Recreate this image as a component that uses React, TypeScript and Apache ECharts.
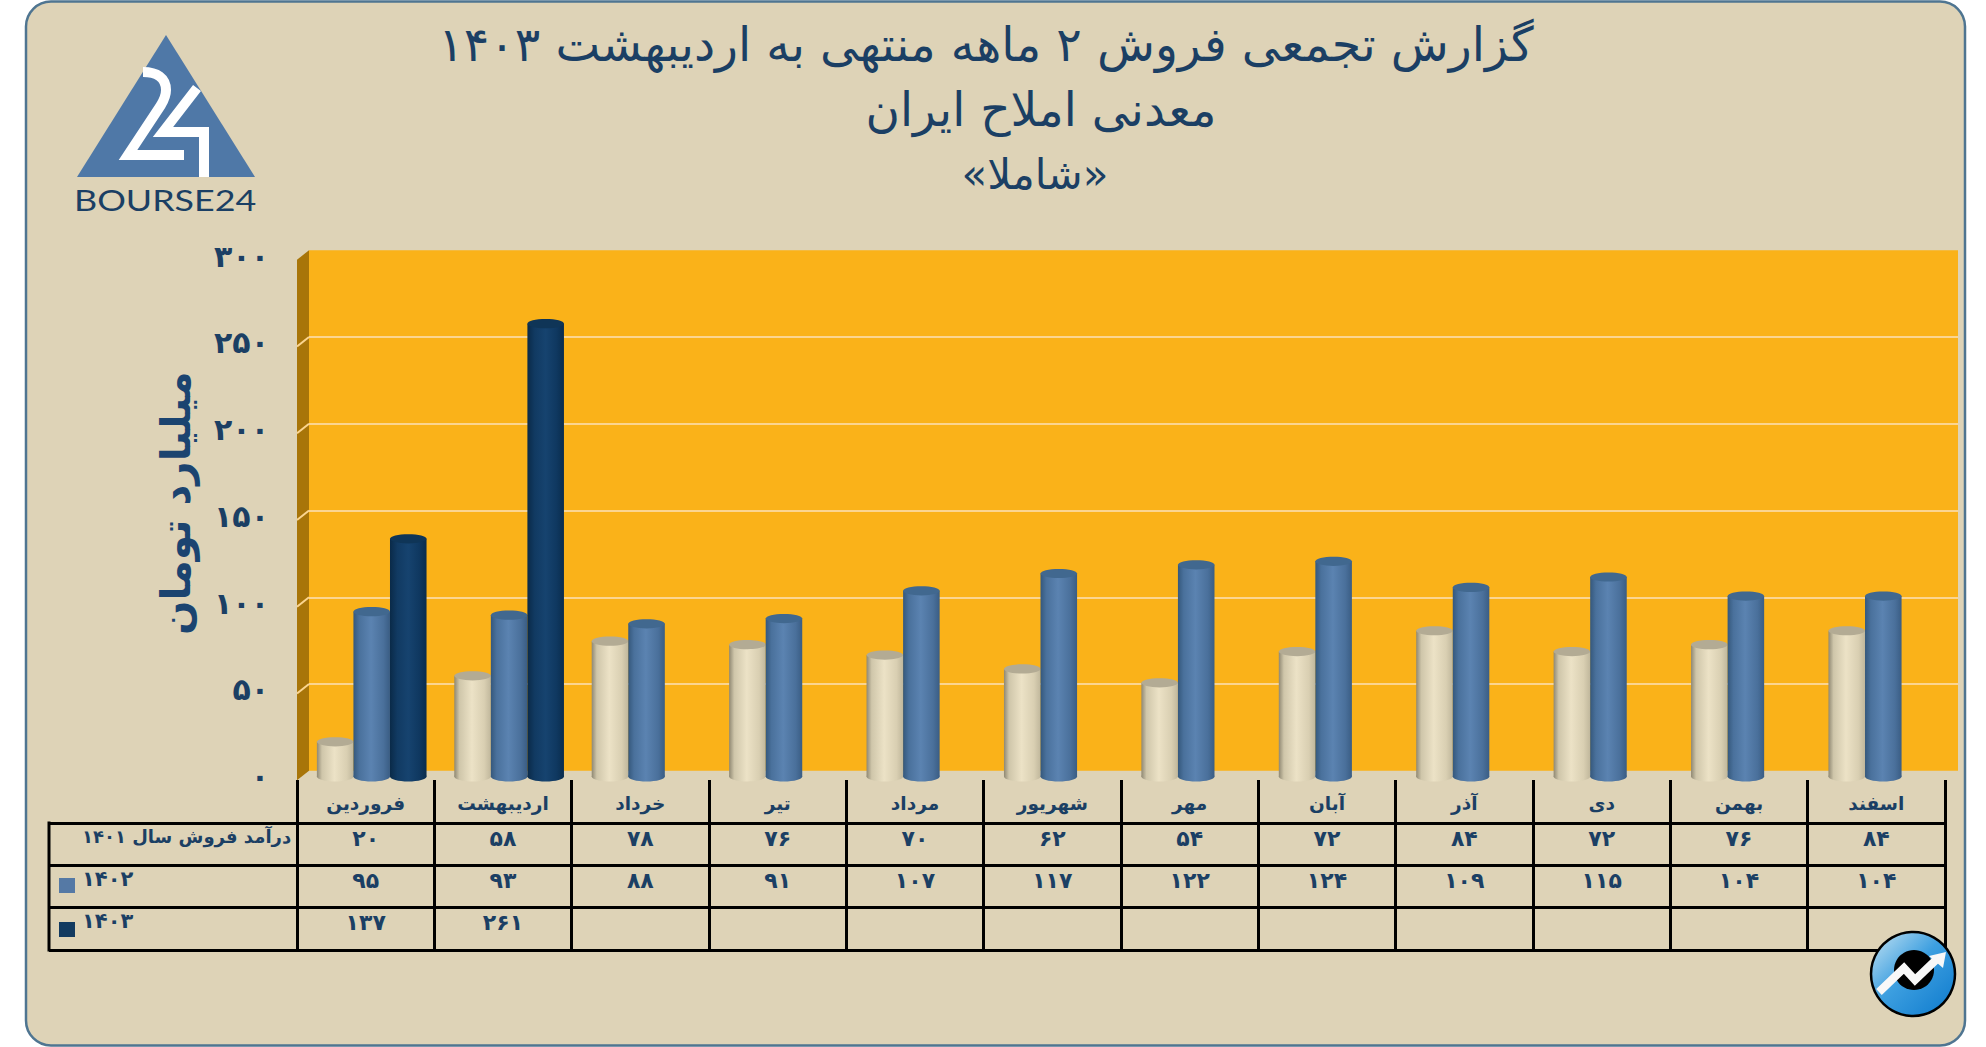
import React, { useEffect, useRef } from "react";
import * as echarts from "echarts";

const months = ["فروردین", "اردیبهشت", "خرداد", "تیر", "مرداد", "شهریور", "مهر", "آبان", "آذر", "دی", "بهمن", "اسفند"];
const sales1401 = [20, 58, 78, 76, 70, 62, 54, 72, 84, 72, 76, 84];
const sales1402 = [95, 93, 88, 91, 107, 117, 122, 124, 109, 115, 104, 104];
const sales1403 = [137, 261];
const yearLabels = ["درآمد فروش سال ۱۴۰۱", "۱۴۰۲", "۱۴۰۳"];
const titleLines = ["گزارش تجمعی فروش ۲ ماهه منتهی به اردیبهشت ۱۴۰۳", "معدنی املاح ایران", "«شاملا»"];
const axisName = "میلیارد تومان";
const innerTicks = [50, 100, 150, 200, 250];

const FONT = "'DejaVu Sans', sans-serif";
const INK = "#1b3f64";

const fa = (n: number) => String(n).replace(/\d/g, (d) => "۰۱۲۳۴۵۶۷۸۹"[+d]);
const grad = (stops: [number, string][]) => ({
  type: "linear", x: 0, y: 0, x2: 1, y2: 0,
  colorStops: stops.map(([offset, color]) => ({ offset, color })),
});

const palette = [
  { body: grad([[0, "#8f8873"], [0.14, "#cfc6aa"], [0.48, "#ece2c6"], [0.82, "#d9cfb2"], [1, "#c0b79c"]]), top: "#b3ab94" },
  { body: grad([[0, "#35587c"], [0.16, "#4a719c"], [0.48, "#5b83b1"], [0.82, "#4a709b"], [1, "#3a5d84"]]), top: "#41688f" },
  { body: grad([[0, "#0a2a48"], [0.2, "#113a62"], [0.5, "#16436f"], [0.8, "#0f3860"], [1, "#0a2c4c"]]), top: "#0f3557" },
];

const cylinder = (slot: number) => (_: any, api: any) => {
  const cat = api.value(0);
  const val = api.value(1);
  const band = api.size([1, 0])[0];
  const w = band * 0.266;
  const [cx0, yTop] = api.coord([cat, val]);
  const [, yBase] = api.coord([cat, 0]);
  const cx = cx0 + slot * w;
  const rx = w / 2;
  const c = palette[slot + 1];
  return {
    type: "group",
    children: [
      { type: "ellipse", shape: { cx, cy: yBase, rx, ry: 5 }, style: { fill: c.body } },
      { type: "rect", shape: { x: cx - rx, y: yTop, width: w, height: yBase - yTop }, style: { fill: c.body } },
      { type: "ellipse", shape: { cx, cy: yTop, rx, ry: 4.6 }, style: { fill: c.top } },
    ],
  };
};

const cellText = (row: number) => (_: any, api: any) => {
  const [x, y] = api.coord([api.value(0), row]);
  return {
    type: "text",
    x,
    y: y - 6,
    style: {
      text: fa(api.value(1)),
      fill: INK,
      font: `bold 22px ${FONT}`,
      textAlign: "center",
      textVerticalAlign: "middle",
    },
  };
};

const asPairs = (vals: number[]) => vals.map((v, i) => [i, v]);

export default function App() {
  const ref = useRef<HTMLDivElement>(null);
  useEffect(() => {
    document.body.style.margin = "0";
    document.body.style.background = "#ffffff";
    echarts.graphic.registerShape(
      "logo24",
      echarts.graphic.extendPath("M143 72 C157 72 166 78 166 90 C166 96 164 100 161 105 L128 155 L184 155 M197 88 L163 132 L204 132 L204 177", {})
    );
    const chart = echarts.init(ref.current!, null, { renderer: "svg" });
    chart.setOption({
      animation: false,
      backgroundColor: "#ffffff",
      title: [
        { text: titleLines[0], left: 981, top: 15, textAlign: "center", textStyle: { fontFamily: FONT, fontSize: 47.5, fontWeight: "normal", color: INK } },
        { text: titleLines[1], left: 1036, top: 81, textAlign: "center", textStyle: { fontFamily: FONT, fontSize: 47, fontWeight: "normal", color: INK } },
        { text: titleLines[2], left: 1030, top: 148, textAlign: "center", textStyle: { fontFamily: FONT, fontSize: 42, fontWeight: "normal", color: INK } },
      ],
      grid: [
        { left: 309, top: 250.25, width: 1649, height: 520.5, show: true, backgroundColor: "#fab219", borderWidth: 0, z: 0 },
        { left: 303, top: 256, width: 1649, height: 520.5 },
        { left: 297, top: 823, width: 1648, height: 127 },
      ],
      xAxis: [
        { gridIndex: 0, type: "value", min: 0, max: 1, show: false },
        { gridIndex: 1, type: "category", data: months, show: false },
        {
          gridIndex: 2, type: "category", data: months, position: "top",
          axisLine: { lineStyle: { color: "#000", width: 3 } },
          axisTick: { show: true, length: 43, interval: 0, lineStyle: { color: "#000", width: 3 } },
          splitLine: { show: true, interval: 0, lineStyle: { color: "#000", width: 3 } },
          axisLabel: { interval: 0, margin: 10, color: INK, fontFamily: FONT, fontWeight: "bold", fontSize: 18.5 },
        },
      ],
      yAxis: [
        {
          gridIndex: 0, type: "value", min: 0, max: 300, interval: 50,
          axisLine: { show: false }, axisTick: { show: false }, axisLabel: { show: false },
          splitLine: { show: true, showMinLine: false, showMaxLine: false, lineStyle: { color: "#fbd590", width: 2 } },
        },
        {
          gridIndex: 1, type: "value", min: 0, max: 300, interval: 50,
          name: axisName, nameLocation: "middle", nameRotate: 90, nameGap: 107,
          nameTextStyle: { fontFamily: FONT, fontSize: 40.5, fontWeight: "bold", color: "#1b4470", padding: [0, 0, 0, 26] },
          axisLine: { show: false }, axisTick: { show: false }, splitLine: { show: false },
          axisLabel: { margin: 34, color: INK, fontFamily: FONT, fontWeight: "bold", fontSize: 30, formatter: (v: number) => fa(v), padding: [4, 0, 0, 0] },
        },
        {
          gridIndex: 2, type: "category", data: yearLabels, inverse: true,
          axisLine: { lineStyle: { color: "#000", width: 3 } },
          axisTick: { show: true, length: 248, interval: 0, lineStyle: { color: "#000", width: 3 } },
          splitLine: { show: true, interval: 0, lineStyle: { color: "#000", width: 3 } },
          axisLabel: {
            interval: 0, align: "left", margin: 215, padding: [0, 0, 16, 0],
            formatter: (v: string, i: number) => (i === 0 ? `{long|${v}}` : `{short|${v}}`),
            rich: {
              long: { color: INK, fontFamily: FONT, fontWeight: "bold", fontSize: 18 },
              short: { color: INK, fontFamily: FONT, fontWeight: "bold", fontSize: 21 },
            },
          },
        },
      ],
      series: [
        {
          name: "sideWall", type: "custom", xAxisIndex: 0, yAxisIndex: 0, z: 1, data: [[0, 300]],
          renderItem: (_: any, api: any) => {
            const [x, yT] = api.coord([0, 300]);
            const [, yB] = api.coord([0, 0]);
            return { type: "polygon", shape: { points: [[x, yT], [x - 12, yT + 9.5], [x - 12, yB + 9.5], [x, yB]] }, style: { fill: "#a87509" } };
          },
        },
        {
          name: "wallTicks", type: "custom", xAxisIndex: 0, yAxisIndex: 0, z: 1, data: innerTicks.map((t) => [0, t]),
          renderItem: (_: any, api: any) => {
            const [x, y] = api.coord([0, api.value(1)]);
            return { type: "line", shape: { x1: x, y1: y, x2: x - 12, y2: y + 9.5 }, style: { stroke: "#fbd590", lineWidth: 2 } };
          },
        },
        { name: "1401", type: "custom", xAxisIndex: 1, yAxisIndex: 1, z: 3, data: asPairs(sales1401), renderItem: cylinder(-1) },
        { name: "1402", type: "custom", xAxisIndex: 1, yAxisIndex: 1, z: 4, data: asPairs(sales1402), renderItem: cylinder(0) },
        { name: "1403", type: "custom", xAxisIndex: 1, yAxisIndex: 1, z: 5, data: asPairs(sales1403), renderItem: cylinder(1) },
        { name: "table1401", type: "custom", xAxisIndex: 2, yAxisIndex: 2, z: 6, data: asPairs(sales1401), renderItem: cellText(0) },
        { name: "table1402", type: "custom", xAxisIndex: 2, yAxisIndex: 2, z: 6, data: asPairs(sales1402), renderItem: cellText(1) },
        { name: "table1403", type: "custom", xAxisIndex: 2, yAxisIndex: 2, z: 6, data: asPairs(sales1403), renderItem: cellText(2) },
      ],
      graphic: [
        { type: "rect", z: -100, shape: { x: 26, y: 1.5, width: 1939, height: 1044, r: 25 }, style: { fill: "#ded3b7", stroke: "#4f7591", lineWidth: 2.5 }, silent: true },
        // table left border and legend swatches
        { type: "line", shape: { x1: 49, y1: 821.5, x2: 49, y2: 951.5 }, style: { stroke: "#000", lineWidth: 3 } },
        { type: "rect", shape: { x: 59, y: 878, width: 16, height: 15 }, style: { fill: "#5579a5" } },
        { type: "rect", shape: { x: 59, y: 922, width: 16, height: 15 }, style: { fill: "#123a60" } },
        // logo
        { type: "polygon", shape: { points: [[166, 35], [77, 177], [255, 177]] }, style: { fill: "#4f78a7" } },
        { type: "logo24", x: 0, y: 0, style: { fill: null, stroke: "#ffffff", lineWidth: 10, lineJoin: "miter" } },
        { type: "text", x: 74, y: 200, scaleX: 1.28, style: { text: "BOURSE24", font: `400 28px Lato, sans-serif`, fill: INK, textVerticalAlign: "middle" } },
        // corner badge
        { type: "circle", z: 20, shape: { cx: 1913, cy: 974, r: 42 }, style: { stroke: "#000", lineWidth: 2.5, fill: { type: "linear", x: 0.1, y: 0.1, x2: 0.9, y2: 0.9, colorStops: [{ offset: 0, color: "#a8d5ef" }, { offset: 0.45, color: "#3d9fe0" }, { offset: 1, color: "#1580d0" }] } } },
        { type: "circle", z: 21, shape: { cx: 1914, cy: 970, r: 20 }, style: { fill: "#000" } },
        { type: "polyline", z: 22, shape: { points: [[1879, 992], [1904, 968], [1915, 980], [1938, 958]] }, style: { stroke: "#f8f8f8", lineWidth: 8, fill: null } },
        { type: "polygon", z: 22, shape: { points: [[1946, 952], [1929, 956], [1943, 968]] }, style: { fill: "#f8f8f8" } },
      ],
    });
    return () => chart.dispose();
  }, []);
  return <div ref={ref} style={{ width: 1986, height: 1047 }} />;
}
